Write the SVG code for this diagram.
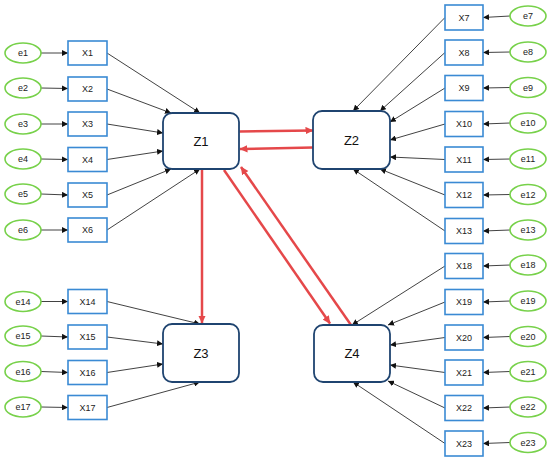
<svg xmlns="http://www.w3.org/2000/svg" width="550" height="463" viewBox="0 0 550 463">
<defs>
<marker id="ab" markerUnits="userSpaceOnUse" markerWidth="7" markerHeight="6" refX="6" refY="3" orient="auto"><path d="M0,0 L6,3 L0,6 Z" fill="#111"/></marker>
<marker id="ar" markerUnits="userSpaceOnUse" markerWidth="9" markerHeight="8" refX="7.5" refY="3.75" orient="auto"><path d="M0,0 L8,3.75 L0,7.5 Z" fill="#e5484a"/></marker>
<style>
.e{fill:#fff;stroke:#77d14a;stroke-width:1.6}
.x{fill:#fff;stroke:#3a8ad4;stroke-width:1.6}
.z{fill:#fff;stroke:#1f4470;stroke-width:1.8}
.t{font-family:"Liberation Sans",Arial,sans-serif;font-size:9px;fill:#222;text-anchor:middle;dominant-baseline:central}
.tz{font-family:"Liberation Sans",Arial,sans-serif;font-size:13px;fill:#111;text-anchor:middle;dominant-baseline:central}
.k{stroke:#111;stroke-width:0.8;fill:none;marker-end:url(#ab)}
.r{stroke:#e5484a;stroke-width:2.5;fill:none;marker-end:url(#ar)}
</style>
</defs>
<g id="connectors">
<line class="k" x1="41" y1="53" x2="68" y2="53"/>
<line class="k" x1="41" y1="88" x2="68" y2="88.5"/>
<line class="k" x1="41" y1="124" x2="68" y2="124"/>
<line class="k" x1="41" y1="159" x2="68" y2="159.5"/>
<line class="k" x1="41" y1="194" x2="68" y2="195"/>
<line class="k" x1="41" y1="230" x2="68" y2="230"/>
<line class="k" x1="41" y1="301.5" x2="68" y2="301.5"/>
<line class="k" x1="41" y1="336" x2="68" y2="337"/>
<line class="k" x1="41" y1="371.5" x2="68" y2="372.5"/>
<line class="k" x1="41" y1="407" x2="68" y2="407.5"/>
<line class="k" x1="510" y1="16" x2="483" y2="17.5"/>
<line class="k" x1="510" y1="52" x2="483" y2="52.5"/>
<line class="k" x1="510" y1="87.5" x2="483" y2="88"/>
<line class="k" x1="510" y1="123" x2="483" y2="124"/>
<line class="k" x1="510" y1="159" x2="483" y2="159.5"/>
<line class="k" x1="510" y1="194.5" x2="483" y2="195"/>
<line class="k" x1="510" y1="230" x2="483" y2="231"/>
<line class="k" x1="510" y1="265" x2="483" y2="266"/>
<line class="k" x1="510" y1="301" x2="483" y2="302"/>
<line class="k" x1="510" y1="336.5" x2="483" y2="337.5"/>
<line class="k" x1="510" y1="371.5" x2="483" y2="372.5"/>
<line class="k" x1="510" y1="407" x2="483" y2="408"/>
<line class="k" x1="510" y1="442.5" x2="483" y2="443.5"/>
<line class="k" x1="107" y1="53" x2="200" y2="113"/>
<line class="k" x1="107" y1="89" x2="171" y2="113"/>
<line class="k" x1="107" y1="124" x2="163" y2="133"/>
<line class="k" x1="107" y1="159.5" x2="163" y2="151"/>
<line class="k" x1="107" y1="195" x2="171" y2="169"/>
<line class="k" x1="107" y1="230" x2="200" y2="169"/>
<line class="k" x1="445" y1="17.5" x2="353" y2="111"/>
<line class="k" x1="445" y1="52.5" x2="380" y2="111"/>
<line class="k" x1="445" y1="88" x2="390" y2="122"/>
<line class="k" x1="445" y1="124" x2="390" y2="140"/>
<line class="k" x1="445" y1="159.5" x2="390" y2="157"/>
<line class="k" x1="445" y1="195" x2="380" y2="169"/>
<line class="k" x1="445" y1="231" x2="353" y2="169"/>
<line class="k" x1="107" y1="301.5" x2="200" y2="324"/>
<line class="k" x1="107" y1="337" x2="163" y2="344"/>
<line class="k" x1="107" y1="372.5" x2="163" y2="364"/>
<line class="k" x1="107" y1="407.5" x2="200" y2="382"/>
<line class="k" x1="445" y1="266" x2="352" y2="325"/>
<line class="k" x1="445" y1="302" x2="388" y2="325"/>
<line class="k" x1="445" y1="337.5" x2="390" y2="345"/>
<line class="k" x1="445" y1="372.5" x2="390" y2="365"/>
<line class="k" x1="445" y1="408" x2="388" y2="381"/>
<line class="k" x1="445" y1="443.5" x2="353" y2="382"/>
<line class="r" x1="239.5" y1="131.5" x2="313" y2="130.5"/>
<line class="r" x1="313" y1="147.5" x2="240" y2="149"/>
<line class="r" x1="202" y1="170" x2="202" y2="323"/>
<line class="r" x1="224" y1="170" x2="330" y2="323.5"/>
<line class="r" x1="351" y1="325" x2="241" y2="167"/>
</g>
<g id="Z1"><rect class="z" x="163" y="113" width="76" height="56" rx="9"/><text class="tz" x="201" y="141">Z1</text></g>
<g id="Z2"><rect class="z" x="313" y="111" width="77" height="58" rx="9"/><text class="tz" x="351.5" y="140">Z2</text></g>
<g id="Z3"><rect class="z" x="163" y="324" width="76" height="58" rx="9"/><text class="tz" x="201" y="353">Z3</text></g>
<g id="Z4"><rect class="z" x="314" y="325" width="76" height="57" rx="9"/><text class="tz" x="352" y="353.5">Z4</text></g>
<g id="X1"><rect class="x" x="68" y="41" width="39" height="24"/><text class="t" x="87.5" y="53">X1</text></g>
<g id="X2"><rect class="x" x="68" y="77" width="39" height="24"/><text class="t" x="87.5" y="89">X2</text></g>
<g id="X3"><rect class="x" x="68" y="112" width="39" height="24"/><text class="t" x="87.5" y="124">X3</text></g>
<g id="X4"><rect class="x" x="68" y="147.5" width="39" height="24"/><text class="t" x="87.5" y="159.5">X4</text></g>
<g id="X5"><rect class="x" x="68" y="183" width="39" height="24"/><text class="t" x="87.5" y="195">X5</text></g>
<g id="X6"><rect class="x" x="68" y="218" width="39" height="24"/><text class="t" x="87.5" y="230">X6</text></g>
<g id="X14"><rect class="x" x="68" y="289.5" width="39" height="24"/><text class="t" x="87.5" y="301.5">X14</text></g>
<g id="X15"><rect class="x" x="68" y="325" width="39" height="24"/><text class="t" x="87.5" y="337">X15</text></g>
<g id="X16"><rect class="x" x="68" y="360.5" width="39" height="24"/><text class="t" x="87.5" y="372.5">X16</text></g>
<g id="X17"><rect class="x" x="68" y="395.5" width="39" height="24"/><text class="t" x="87.5" y="407.5">X17</text></g>
<g id="X7"><rect class="x" x="445" y="5" width="38" height="25"/><text class="t" x="464" y="17.5">X7</text></g>
<g id="X8"><rect class="x" x="445" y="40" width="38" height="25"/><text class="t" x="464" y="52.5">X8</text></g>
<g id="X9"><rect class="x" x="445" y="75.5" width="38" height="25"/><text class="t" x="464" y="88">X9</text></g>
<g id="X10"><rect class="x" x="445" y="111.5" width="38" height="25"/><text class="t" x="464" y="124">X10</text></g>
<g id="X11"><rect class="x" x="445" y="147" width="38" height="25"/><text class="t" x="464" y="159.5">X11</text></g>
<g id="X12"><rect class="x" x="445" y="182.5" width="38" height="25"/><text class="t" x="464" y="195">X12</text></g>
<g id="X13"><rect class="x" x="445" y="218.5" width="38" height="25"/><text class="t" x="464" y="231">X13</text></g>
<g id="X18"><rect class="x" x="445" y="253.5" width="38" height="25"/><text class="t" x="464" y="266">X18</text></g>
<g id="X19"><rect class="x" x="445" y="289.5" width="38" height="25"/><text class="t" x="464" y="302">X19</text></g>
<g id="X20"><rect class="x" x="445" y="325" width="38" height="25"/><text class="t" x="464" y="337.5">X20</text></g>
<g id="X21"><rect class="x" x="445" y="360" width="38" height="25"/><text class="t" x="464" y="372.5">X21</text></g>
<g id="X22"><rect class="x" x="445" y="395.5" width="38" height="25"/><text class="t" x="464" y="408">X22</text></g>
<g id="X23"><rect class="x" x="445" y="431" width="38" height="25"/><text class="t" x="464" y="443.5">X23</text></g>
<g id="e1"><ellipse class="e" cx="23" cy="53" rx="18" ry="10"/><text class="t" x="23" y="53">e1</text></g>
<g id="e2"><ellipse class="e" cx="23" cy="88" rx="18" ry="10"/><text class="t" x="23" y="88">e2</text></g>
<g id="e3"><ellipse class="e" cx="23" cy="124" rx="18" ry="10"/><text class="t" x="23" y="124">e3</text></g>
<g id="e4"><ellipse class="e" cx="23" cy="159" rx="18" ry="10"/><text class="t" x="23" y="159">e4</text></g>
<g id="e5"><ellipse class="e" cx="23" cy="194" rx="18" ry="10"/><text class="t" x="23" y="194">e5</text></g>
<g id="e6"><ellipse class="e" cx="23" cy="230" rx="18" ry="10"/><text class="t" x="23" y="230">e6</text></g>
<g id="e14"><ellipse class="e" cx="23" cy="301.5" rx="18" ry="10"/><text class="t" x="23" y="301.5">e14</text></g>
<g id="e15"><ellipse class="e" cx="23" cy="336" rx="18" ry="10"/><text class="t" x="23" y="336">e15</text></g>
<g id="e16"><ellipse class="e" cx="23" cy="371.5" rx="18" ry="10"/><text class="t" x="23" y="371.5">e16</text></g>
<g id="e17"><ellipse class="e" cx="23" cy="407" rx="18" ry="10"/><text class="t" x="23" y="407">e17</text></g>
<g id="e7"><ellipse class="e" cx="528" cy="16" rx="18" ry="10"/><text class="t" x="528" y="16">e7</text></g>
<g id="e8"><ellipse class="e" cx="528" cy="52" rx="18" ry="10"/><text class="t" x="528" y="52">e8</text></g>
<g id="e9"><ellipse class="e" cx="528" cy="87.5" rx="18" ry="10"/><text class="t" x="528" y="87.5">e9</text></g>
<g id="e10"><ellipse class="e" cx="528" cy="123" rx="18" ry="10"/><text class="t" x="528" y="123">e10</text></g>
<g id="e11"><ellipse class="e" cx="528" cy="159" rx="18" ry="10"/><text class="t" x="528" y="159">e11</text></g>
<g id="e12"><ellipse class="e" cx="528" cy="194.5" rx="18" ry="10"/><text class="t" x="528" y="194.5">e12</text></g>
<g id="e13"><ellipse class="e" cx="528" cy="230" rx="18" ry="10"/><text class="t" x="528" y="230">e13</text></g>
<g id="e18"><ellipse class="e" cx="528" cy="265" rx="18" ry="10"/><text class="t" x="528" y="265">e18</text></g>
<g id="e19"><ellipse class="e" cx="528" cy="301" rx="18" ry="10"/><text class="t" x="528" y="301">e19</text></g>
<g id="e20"><ellipse class="e" cx="528" cy="336.5" rx="18" ry="10"/><text class="t" x="528" y="336.5">e20</text></g>
<g id="e21"><ellipse class="e" cx="528" cy="371.5" rx="18" ry="10"/><text class="t" x="528" y="371.5">e21</text></g>
<g id="e22"><ellipse class="e" cx="528" cy="407" rx="18" ry="10"/><text class="t" x="528" y="407">e22</text></g>
<g id="e23"><ellipse class="e" cx="528" cy="442.5" rx="18" ry="10"/><text class="t" x="528" y="442.5">e23</text></g>
</svg>
